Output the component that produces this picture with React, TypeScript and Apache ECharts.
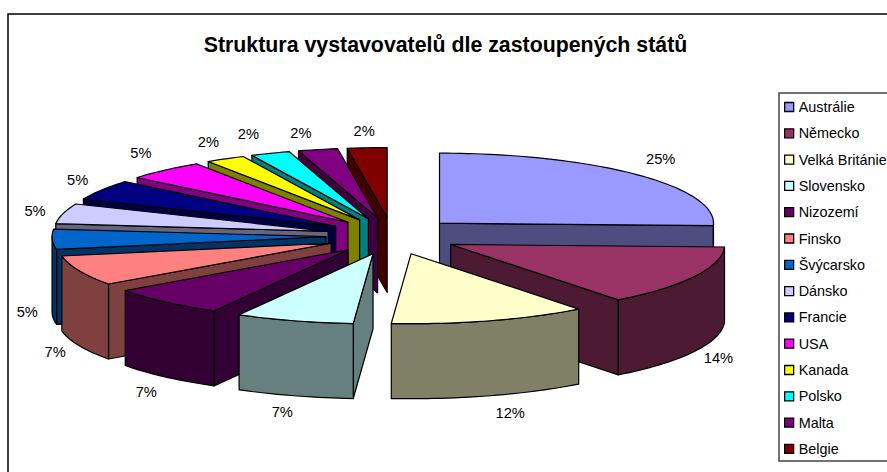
import React, { useEffect, useRef } from "react";
import * as echarts from "echarts";

const TITLE = "Struktura vystavovatelů dle zastoupených států";
const countries = ["Austrálie", "Německo", "Velká Británie", "Slovensko", "Nizozemí", "Finsko", "Švýcarsko", "Dánsko", "Francie", "USA", "Kanada", "Polsko", "Malta", "Belgie"];
const shares = [25.58, 13.95, 11.63, 6.98, 6.98, 6.98, 4.65, 4.65, 4.65, 4.65, 2.33, 2.33, 2.33, 2.33];
const percentLabels = ["25%", "14%", "12%", "7%", "7%", "7%", "5%", "5%", "5%", "5%", "2%", "2%", "2%", "2%"];
const colors = ["#9999FF", "#993366", "#FFFFCC", "#CCFFFF", "#660066", "#FF8080", "#0066CC", "#CCCCFF", "#000080", "#FF00FF", "#FFFF00", "#00FFFF", "#800080", "#800000"];

// layout of the exploded, tilted pie
const CX = 392, CY = 236, RX = 274, RY = 70, DEPTH = 75, EX = 66, EY = 18.5;
const labelNudge: [number, number][] = [[24, -16], [24, 7], [20, 17], [-12, 16], [-19, 15], [-24, 6], [-25, -2], [-28, -3], [-24, -10], [-24, -17], [-17, -17], [-22, -19], [-17, -17], [-3, -17]];
const FONT = "'Liberation Sans', Arial, sans-serif";

const total = shares.reduce((a, b) => a + b, 0);
const rad = (d: number) => (d * Math.PI) / 180;

function shade(hex: string) {
  const n = parseInt(hex.slice(1), 16);
  const h = (v: number) => Math.round(v / 2).toString(16).padStart(2, "0");
  return "#" + h((n >> 16) & 255) + h((n >> 8) & 255) + h(n & 255);
}

function arc(ax: number, ay: number, from: number, to: number, dy = 0) {
  const pts: number[][] = [];
  const steps = Math.max(2, Math.ceil((to - from) / 1.5));
  for (let i = 0; i <= steps; i++) {
    const t = rad(from + ((to - from) * i) / steps);
    pts.push([ax + RX * Math.sin(t), ay - RY * Math.cos(t) + dy]);
  }
  return pts;
}

function face(points: number[][], fill: string) {
  return { type: "polygon", shape: { points }, style: { fill, stroke: "#000", lineWidth: 1.2, lineJoin: "round" } };
}

function sliceRenderer(index: number) {
  return (_params: any, api: any) => {
    const before = shares.slice(0, index).reduce((a, b) => a + b, 0);
    const t1 = (before / total) * 360;
    const t2 = t1 + (api.value(0) / total) * 360;
    const m = rad((t1 + t2) / 2);
    const ax = CX + EX * Math.sin(m);
    const ay = CY - EY * Math.cos(m);
    const top = colors[index];
    const side = shade(top);
    const children: any[] = [];
    const edge = (t: number) => {
      const p = [ax + RX * Math.sin(rad(t)), ay - RY * Math.cos(rad(t))];
      children.push(face([[ax, ay], p, [p[0], p[1] + DEPTH], [ax, ay + DEPTH]], side));
    };
    if (Math.sin(rad(t1)) < -1e-6) edge(t1);
    if (Math.sin(rad(t2)) > 1e-6) edge(t2);
    const lo = Math.max(t1, 90), hi = Math.min(t2, 270);
    if (hi > lo) {
      const upper = arc(ax, ay, lo, hi);
      const lower = arc(ax, ay, lo, hi, DEPTH).reverse();
      children.push(face(upper.concat(lower), side));
    }
    children.push(face([[ax, ay] as number[]].concat(arc(ax, ay, t1, t2)), top));
    const rimBelow = Math.cos(m) < 0 ? DEPTH : 0;
    children.push({
      type: "text",
      style: {
        text: percentLabels[index],
        x: ax + RX * Math.sin(m) + labelNudge[index][0],
        y: ay - RY * Math.cos(m) + rimBelow + labelNudge[index][1],
        fill: "#000",
        fontSize: 14.67,
        fontFamily: FONT,
        align: "center",
        verticalAlign: "middle",
      },
    });
    return { type: "group", children };
  };
}

function depthOf(index: number) {
  const before = shares.slice(0, index).reduce((a, b) => a + b, 0);
  return CY - EY * Math.cos(rad(((before + shares[index] / 2) / total) * 360));
}

export default function App() {
  const ref = useRef<HTMLDivElement>(null);
  useEffect(() => {
    document.body.style.overflow = "hidden";
    const chart = echarts.init(ref.current!, null, { renderer: "svg" });
    const rank = countries.map((_, i) => i).sort((a, b) => depthOf(a) - depthOf(b));
    chart.setOption({
      animation: false,
      backgroundColor: "#fff",
      title: {
        text: TITLE,
        left: 445.5,
        top: 34,
        padding: 0,
        textAlign: "center",
        textStyle: { fontFamily: FONT, fontSize: 21.33, fontWeight: "bold", color: "#000" },
      },
      graphic: [
        { type: "rect", z: -1, silent: true, shape: { x: 8, y: 14, width: 920, height: 500 }, style: { fill: "#fff", stroke: "#000", lineWidth: 1.5 } },
      ],
      legend: {
        orient: "vertical",
        left: 779,
        top: 93,
        padding: [7, 10, 5, 5],
        itemWidth: 9,
        itemHeight: 9,
        itemGap: 12.3,
        icon: "rect",
        data: countries,
        selectedMode: false,
        borderColor: "#444",
        borderWidth: 1.5,
        backgroundColor: "#fff",
        itemStyle: { borderColor: "#000", borderWidth: 1.3 },
        textStyle: { fontFamily: FONT, fontSize: 14.4, color: "#000", lineHeight: 14 },
      },
      series: countries.map((name, i) => ({
        type: "custom",
        name,
        coordinateSystem: "none",
        z: 2 + rank.indexOf(i),
        silent: true,
        clip: false,
        itemStyle: { color: colors[i] },
        data: [[shares[i]]],
        renderItem: sliceRenderer(i),
      })),
    });
    return () => chart.dispose();
  }, []);
  return <div ref={ref} style={{ position: "fixed", left: 0, top: 0, width: 887, height: 472 }} />;
}
